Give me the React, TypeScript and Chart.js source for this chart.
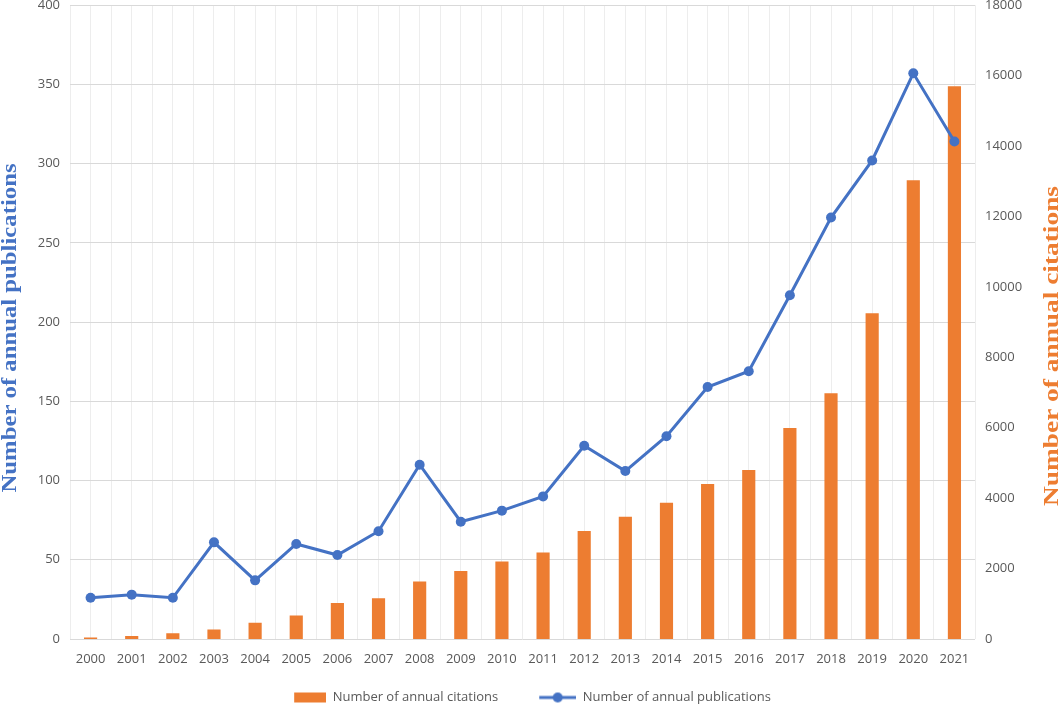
import React, { useEffect, useRef } from "react";
import { Chart, registerables } from "chart.js";

Chart.register(...registerables);

const years = [
  "2000", "2001", "2002", "2003", "2004", "2005", "2006", "2007", "2008", "2009", "2010",
  "2011", "2012", "2013", "2014", "2015", "2016", "2017", "2018", "2019", "2020", "2021",
];

const publications = [
  26, 28, 26, 61, 37, 60, 53, 68, 110, 74, 81,
  90, 122, 106, 128, 159, 169, 217, 266, 302, 357, 314,
];

const citations = [
  40, 85, 160, 270, 460, 670, 1020, 1160, 1630, 1930, 2200,
  2460, 3070, 3470, 3870, 4400, 4800, 5990, 6980, 9250, 13030, 15700,
];

const citationsLabel = "Number of annual citations";
const publicationsLabel = "Number of annual publications";

const BLUE = "#4472C4";
const ORANGE = "#ED7D31";
const TICK = "#595959";
const FONT = "'Open Sans', 'Noto Sans', sans-serif";

const titlesPlugin = {
  id: "sideTitles",
  afterDraw(chart: any) {
    const ctx = chart.ctx as CanvasRenderingContext2D;
    const draw = (text: string, x: number, y: number, color: string, len: number) => {
      ctx.save();
      ctx.translate(x, y);
      ctx.rotate(-Math.PI / 2);
      ctx.font = "bold 20px 'Liberation Serif', 'Times New Roman', serif";
      const w = ctx.measureText(text).width;
      ctx.scale(len / w, 1);
      ctx.fillStyle = color;
      ctx.textAlign = "center";
      ctx.textBaseline = "middle";
      ctx.fillText(text, 0, 0);
      ctx.restore();
    };
    draw(publicationsLabel, 11, 328, BLUE, 329);
    draw(citationsLabel, 1053, 346, ORANGE, 320);
  },
};

function makeImg(drawFn: (g: CanvasRenderingContext2D) => void) {
  const c = document.createElement("canvas");
  c.width = 68;
  c.height = 12;
  const g = c.getContext("2d")!;
  drawFn(g);
  return c;
}

export default function App() {
  const ref = useRef<HTMLCanvasElement>(null);

  useEffect(() => {
    document.body.style.margin = "0";
    if (!ref.current) return;

    const barImg = makeImg((g) => {
      g.fillStyle = ORANGE;
      g.fillRect(36, 1, 32, 10);
    });
    const lineImg = makeImg((g) => {
      g.strokeStyle = BLUE;
      g.lineWidth = 3;
      g.beginPath();
      g.moveTo(31, 6);
      g.lineTo(68, 6);
      g.stroke();
      g.fillStyle = BLUE;
      g.beginPath();
      g.arc(49.5, 6, 5, 0, Math.PI * 2);
      g.fill();
    });

    const tickFont = { family: FONT, size: 13, lineHeight: 0.8 };

    const chart = new Chart(ref.current, {
      type: "bar",
      data: {
        labels: years,
        datasets: [
          {
            type: "line",
            label: publicationsLabel,
            data: publications,
            yAxisID: "y",
            xAxisID: "x",
            borderColor: BLUE,
            backgroundColor: BLUE,
            borderWidth: 3,
            pointRadius: 5,
            pointBackgroundColor: BLUE,
            pointBorderColor: BLUE,
            pointBorderWidth: 0,
            tension: 0,
            order: 0,
          } as any,
          {
            type: "bar",
            label: citationsLabel,
            data: citations,
            yAxisID: "y1",
            xAxisID: "x",
            backgroundColor: ORANGE,
            borderWidth: 0,
            barPercentage: 0.32,
            categoryPercentage: 1,
            order: 1,
          } as any,
        ],
      },
      options: {
        animation: false,
        responsive: false,
        layout: { padding: { left: 0, right: 34, top: 0, bottom: 0 } },
        plugins: {
          tooltip: { enabled: false },
          legend: {
            position: "bottom",
            maxHeight: 25,
            labels: {
              usePointStyle: true,
              pointStyleWidth: 68,
              boxHeight: 12,
              padding: 10,
              color: TICK,
              font: { family: FONT, size: 13 },
              generateLabels: () => [
                {
                  text: citationsLabel,
                  pointStyle: barImg as any,
                  fillStyle: ORANGE,
                  strokeStyle: ORANGE,
                  lineWidth: 0,
                  hidden: false,
                  datasetIndex: 1,
                  fontColor: TICK,
                },
                {
                  text: publicationsLabel,
                  pointStyle: lineImg as any,
                  fillStyle: BLUE,
                  strokeStyle: BLUE,
                  lineWidth: 0,
                  hidden: false,
                  datasetIndex: 0,
                  fontColor: TICK,
                },
              ],
            },
          },
        },
        scales: {
          x: {
            type: "category",
            position: "bottom",
            offset: true,
            grid: { offset: true, color: "#ededed", drawTicks: false },
            border: { display: false },
            ticks: {
              color: TICK,
              font: { family: FONT, size: 13 },
              padding: 12,
              maxRotation: 0,
              autoSkip: false,
            },
            afterFit: (s: any) => {
              s.height = 42;
            },
          },
          x2: {
            type: "category",
            position: "bottom",
            offset: true,
            grid: { offset: false, color: "#ededed", drawTicks: false },
            border: { display: false },
            ticks: { display: false },
            afterFit: (s: any) => {
              s.height = 0;
            },
          },
          y: {
            position: "left",
            min: 0,
            max: 400,
            ticks: {
              stepSize: 50,
              color: TICK,
              font: tickFont,
              padding: 0,
              callback: (v: any) => String(v),
            },
            grid: { color: "#d9d9d9", drawTicks: true, tickLength: 10, tickColor: "rgba(0,0,0,0)" },
            border: { display: false },
            afterFit: (s: any) => {
              s.width = 70;
            },
          },
          y1: {
            position: "right",
            min: 0,
            max: 18000,
            ticks: {
              stepSize: 2000,
              color: TICK,
              font: tickFont,
              padding: 0,
              callback: (v: any) => String(v),
            },
            grid: { display: false, drawTicks: true, tickLength: 10, tickColor: "rgba(0,0,0,0)" },
            border: { display: false },
            afterFit: (s: any) => {
              s.width = 54;
            },
          },
        },
      } as any,
      plugins: [titlesPlugin],
    });

    return () => chart.destroy();
  }, []);

  return (
    <div style={{ width: 1063, height: 706, background: "#fff" }}>
      <canvas ref={ref} width={1063} height={706} style={{ display: "block" }} />
    </div>
  );
}
